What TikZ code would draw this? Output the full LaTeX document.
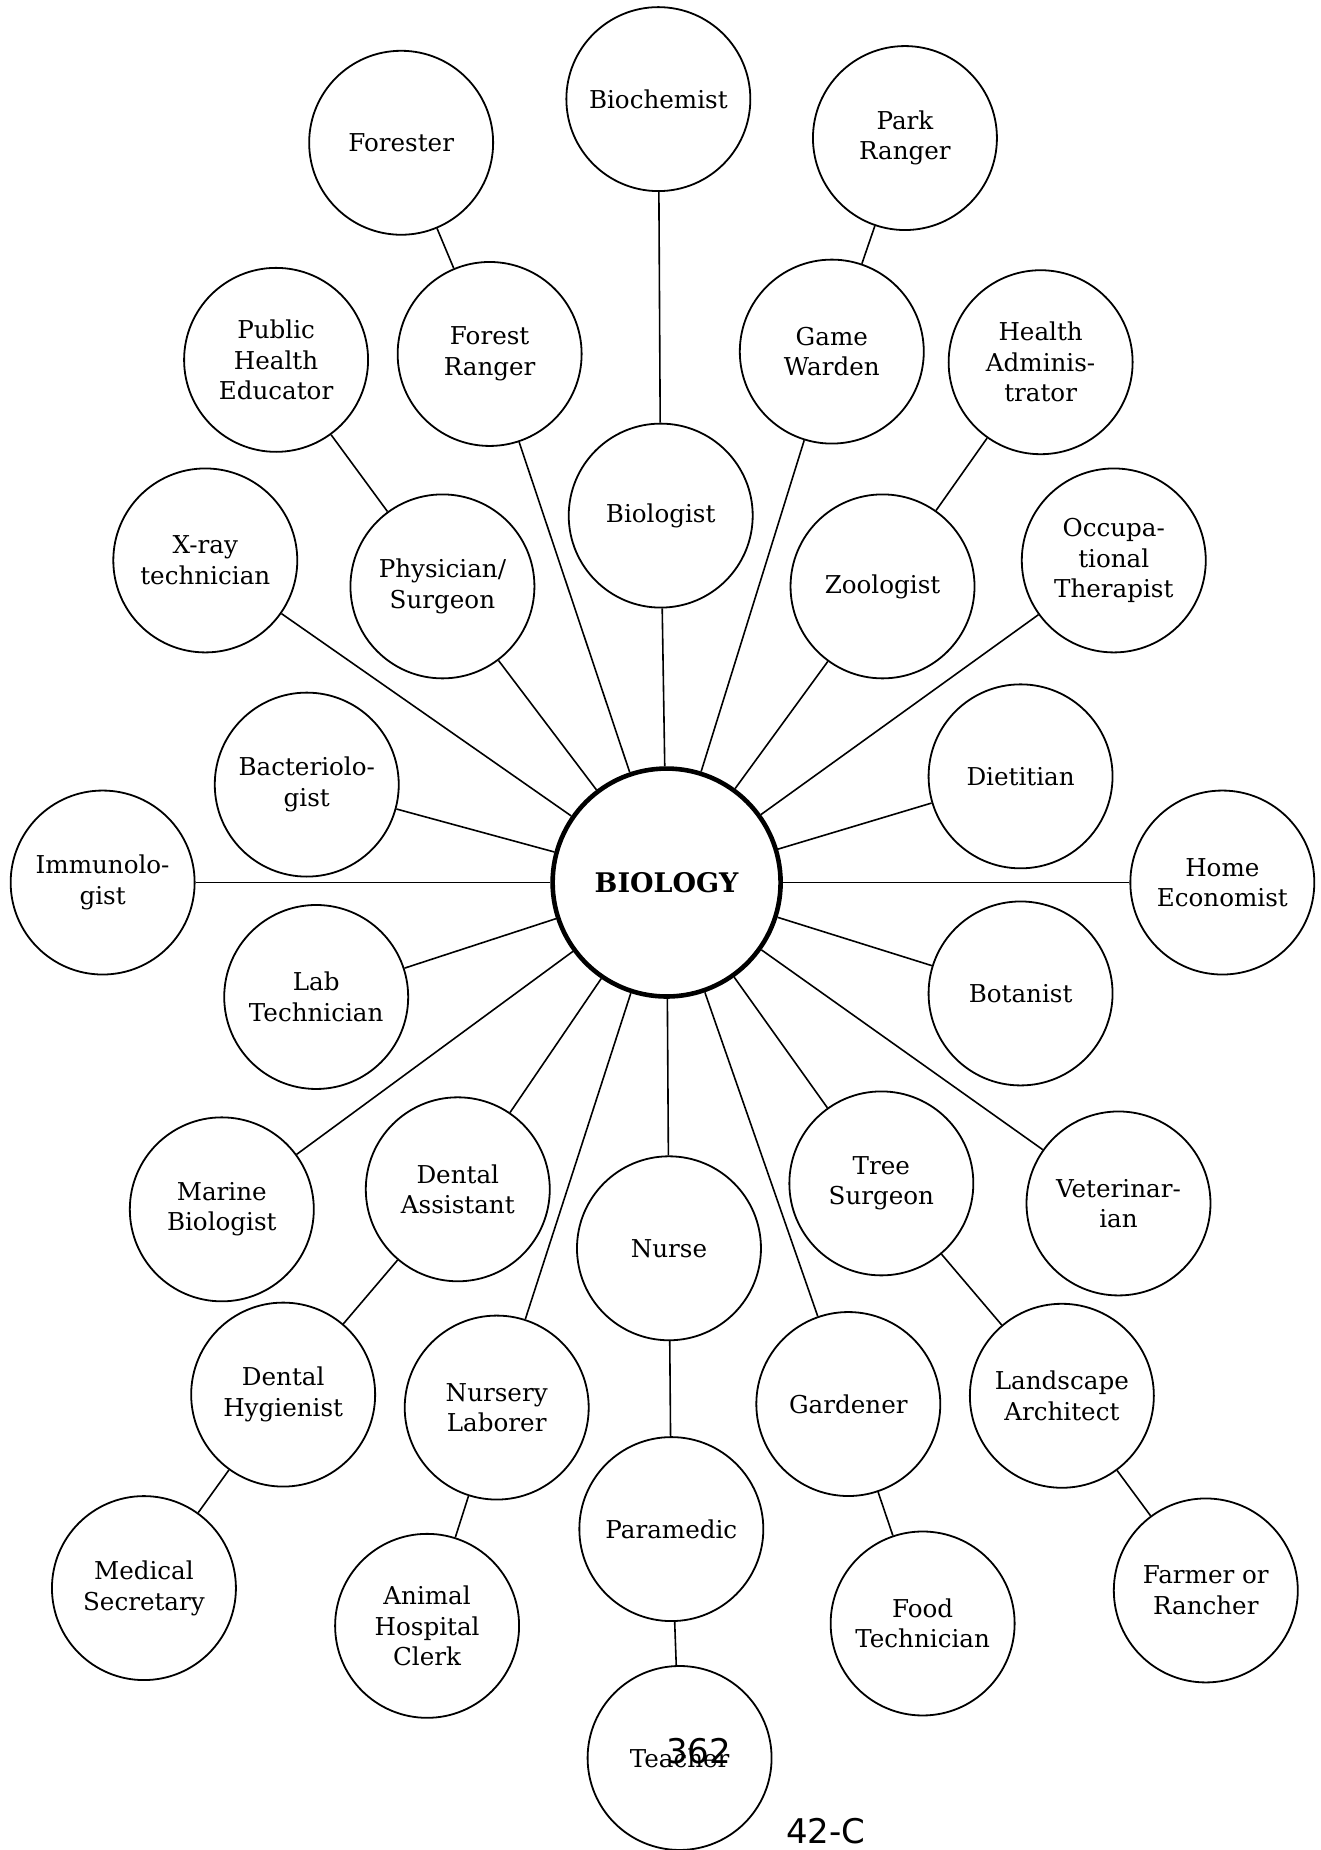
\documentclass[tikz,border=0pt]{standalone}
\usepackage{fontspec}
\setmainfont{DejaVu Serif}
\newfontfamily\handfont{DejaVu Sans}
\begin{document}
\begin{tikzpicture}[x=0.59pt,y=-0.59pt,
  job/.style={circle,draw,line width=0.9pt,minimum size=92pt,inner sep=0pt,
    align=center,font=\fontsize{12.3}{15.3}\selectfont},
  hub/.style={circle,draw,line width=2.3pt,minimum size=114pt,inner sep=0pt,
    font=\bfseries\fontsize{13.5}{16}\selectfont},
  link/.style={line width=0.8pt},
  scrawl/.style={font=\handfont\fontsize{17}{20}\selectfont,inner sep=0pt}]
\useasboundingbox (0,0) rectangle (1119,1568);

% central hub
\node[hub] (bio) at (565,748) {BIOLOGY};

% career circles
\node[job] (biochem)  at (558,84)   {Biochemist};
\node[job] (forester) at (340,121)  {Forester};
\node[job] (park)     at (767,117)  {Park\\Ranger};
\node[job] (phe)      at (234,305)  {Public\\Health\\Educator};
\node[job] (frang)    at (415,300)  {Forest\\Ranger};
\node[job] (game)     at (705,298)  {Game\\Warden};
\node[job] (hadmin)   at (882,307)  {Health\\Adminis-\\trator};
\node[job] (xray)     at (174,475)  {X-ray\\technician};
\node[job] (phys)     at (375,497)  {Physician/\\Surgeon};
\node[job] (biolog)   at (560,437)  {Biologist};
\node[job] (zoo)      at (748,497)  {Zoologist};
\node[job] (ot)       at (944,475)  {Occupa-\\tional\\Therapist};
\node[job] (bact)     at (260,665)  {Bacteriolo-\\gist};
\node[job] (diet)     at (865,658)  {Dietitian};
\node[job] (immun)    at (87,748)   {Immunolo-\\gist};
\node[job] (home)     at (1036,748) {Home\\Economist};
\node[job] (lab)      at (268,845)  {Lab\\Technician};
\node[job] (bot)      at (865,842)  {Botanist};
\node[job] (marine)   at (188,1025) {Marine\\Biologist};
\node[job] (dassist)  at (388,1008) {Dental\\Assistant};
\node[job] (nurse)    at (567,1058) {Nurse};
\node[job] (tree)     at (747,1003) {Tree\\Surgeon};
\node[job] (vet)      at (948,1020) {Veterinar-\\ian};
\node[job] (dhyg)     at (240,1182) {Dental\\Hygienist};
\node[job] (nursery)  at (421,1193) {Nursery\\Laborer};
\node[job] (garden)   at (719,1190) {Gardener};
\node[job] (land)     at (900,1183) {Landscape\\Architect};
\node[job] (para)     at (569,1296) {Paramedic};
\node[job] (medsec)   at (122,1346) {Medical\\Secretary};
\node[job] (clerk)    at (362,1378) {Animal\\Hospital\\Clerk};
\node[job] (food)     at (782,1376) {Food\\Technician};
\node[job] (farmer)   at (1022,1348) {Farmer or\\Rancher};
\node[job] (teacher)  at (576,1490) {Teacher};

% spokes from the hub
\foreach \n in {biolog,frang,game,phys,zoo,xray,ot,bact,diet,immun,home,
                lab,bot,marine,dassist,nurse,tree,vet,nursery,garden}
  \draw[link] (bio) -- (\n);

% outer branches
\draw[link] (biochem) -- (biolog);
\draw[link] (forester) -- (frang);
\draw[link] (park) -- (game);
\draw[link] (phe) -- (phys);
\draw[link] (hadmin) -- (zoo);
\draw[link] (dassist) -- (dhyg);
\draw[link] (dhyg) -- (medsec);
\draw[link] (nursery) -- (clerk);
\draw[link] (nurse) -- (para);
\draw[link] (para) -- (teacher);
\draw[link] (garden) -- (food);
\draw[link] (tree) -- (land);
\draw[link] (land) -- (farmer);

% handwritten page marks
\node[scrawl] (pg) at (592,1484) {362};
\node[scrawl] (code) at (700,1552) {42-C};
\end{tikzpicture}
\end{document}
